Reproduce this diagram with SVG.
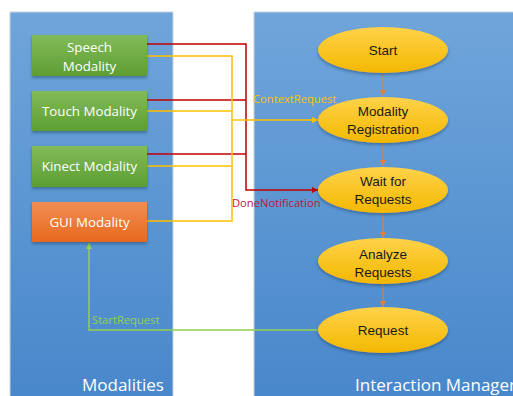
<svg xmlns="http://www.w3.org/2000/svg" width="513" height="396" viewBox="0 0 513 396">
<style>
.panel{fill:url(#pg);stroke:#c9d3de;stroke-width:1}
.box{stroke:none;filter:url(#sh)}
.bt{font-family:"Open Sans","Liberation Sans",sans-serif;font-size:13.3px;fill:#ffffff;text-anchor:middle}
.et{font-family:"Liberation Sans",Arial,sans-serif;font-size:13.5px;fill:#1a1a1a;text-anchor:middle}
.ell{fill:url(#yg);filter:url(#sh)}
.lbl{font-family:"Open Sans","Liberation Sans",sans-serif;font-size:11.2px}
.title{font-family:"Open Sans","Liberation Sans",sans-serif;font-size:17px;fill:#ffffff}
.red{fill:none;stroke:#c00000;stroke-width:1.5}
.yel{fill:none;stroke:#ffc000;stroke-width:1.5}
.grn{fill:none;stroke:#92d050;stroke-width:1.5}
.org{fill:none;stroke:#ed7d31;stroke-width:1}
</style>
<defs>
<linearGradient id="pg" x1="0" y1="0" x2="0" y2="1"><stop offset="0" stop-color="#6fa5da"/><stop offset="1" stop-color="#4887cb"/></linearGradient>
<linearGradient id="gg" x1="0" y1="0" x2="0" y2="1"><stop offset="0" stop-color="#82bb5a"/><stop offset="1" stop-color="#5d9e32"/></linearGradient>
<linearGradient id="og" x1="0" y1="0" x2="0" y2="1"><stop offset="0" stop-color="#f28d55"/><stop offset="1" stop-color="#e7691c"/></linearGradient>
<linearGradient id="yg" x1="0" y1="0" x2="0" y2="1"><stop offset="0" stop-color="#ffd24a"/><stop offset="1" stop-color="#f3b800"/></linearGradient>
<filter id="sh" x="-20%" y="-20%" width="140%" height="150%"><feDropShadow dx="0" dy="2" stdDeviation="1.5" flood-color="#1f3a5a" flood-opacity="0.45"/></filter>
<marker id="ar" viewBox="0 0 10 10" refX="10" refY="5" markerWidth="6" markerHeight="6" markerUnits="userSpaceOnUse" orient="auto"><path d="M0,0L10,5L0,10z" fill="#c00000"/></marker>
<marker id="ay" viewBox="0 0 10 10" refX="10" refY="5" markerWidth="6" markerHeight="6" markerUnits="userSpaceOnUse" orient="auto"><path d="M0,0L10,5L0,10z" fill="#ffc000"/></marker>
<marker id="ag" viewBox="0 0 10 10" refX="10" refY="5" markerWidth="6" markerHeight="6" markerUnits="userSpaceOnUse" orient="auto"><path d="M0,0L10,5L0,10z" fill="#92d050"/></marker>
<marker id="ao" viewBox="0 0 10 10" refX="10" refY="5" markerWidth="6" markerHeight="6" markerUnits="userSpaceOnUse" orient="auto"><path d="M0,0L10,5L0,10z" fill="#ed7d31"/></marker>
</defs>
<rect width="513" height="396" fill="#ffffff"/>
<g id="panel-modalities">
<rect class="panel" x="10" y="12" width="163" height="390"/>
<text class="title" x="82" y="391">Modalities</text>
</g>
<g id="panel-im">
<rect class="panel" x="254" y="12" width="270" height="390"/>
<text class="title" x="355" y="391">Interaction Manager</text>
</g>
<g id="connectors">
<path class="org" d="M383,73V96" marker-end="url(#ao)"/>
<path class="org" d="M383,143V166" marker-end="url(#ao)"/>
<path class="org" d="M383,213V238" marker-end="url(#ao)"/>
<path class="org" d="M383,284V307" marker-end="url(#ao)"/>
<path class="red" d="M147,44H246V190H318" marker-end="url(#ar)"/>
<path class="red" d="M147,100H246"/>
<path class="red" d="M147,154H246"/>
<path class="yel" d="M147,56H232V221H147"/>
<path class="yel" d="M147,111H232"/>
<path class="yel" d="M147,166H232"/>
<path class="yel" d="M232,120H318" marker-end="url(#ay)"/>
<path class="grn" d="M318,330H89V243" marker-end="url(#ag)"/>
<text class="lbl" x="253" y="103" fill="#ffc000">ContextRequest</text>
<text class="lbl" x="232" y="207" fill="#c0143c">DoneNotification</text>
<text class="lbl" x="92" y="324" fill="#92d050">StartRequest</text>
</g>
<g id="speech"><rect class="box" x="32" y="35" width="115" height="41" fill="url(#gg)"/><text class="bt" x="89.5" y="52">Speech</text><text class="bt" x="89.5" y="71">Modality</text></g>
<g id="touch"><rect class="box" x="32" y="91" width="115" height="40" fill="url(#gg)"/><text class="bt" x="89.5" y="116">Touch Modality</text></g>
<g id="kinect"><rect class="box" x="32" y="146" width="115" height="41" fill="url(#gg)"/><text class="bt" x="89.5" y="171">Kinect Modality</text></g>
<g id="gui"><rect class="box" x="32" y="202" width="115" height="40" fill="url(#og)"/><text class="bt" x="89.5" y="227">GUI Modality</text></g>
<g id="start"><ellipse class="ell" cx="383" cy="50" rx="65" ry="23"/><text class="et" x="383" y="55">Start</text></g>
<g id="registration"><ellipse class="ell" cx="383" cy="120" rx="65" ry="23"/><text class="et" x="383" y="116">Modality</text><text class="et" x="383" y="134">Registration</text></g>
<g id="wait"><ellipse class="ell" cx="383" cy="190" rx="65" ry="23"/><text class="et" x="383" y="186">Wait for</text><text class="et" x="383" y="204">Requests</text></g>
<g id="analyze"><ellipse class="ell" cx="383" cy="261" rx="65" ry="23"/><text class="et" x="383" y="259">Analyze</text><text class="et" x="383" y="277">Requests</text></g>
<g id="request"><ellipse class="ell" cx="383" cy="330" rx="65" ry="23"/><text class="et" x="383" y="335">Request</text></g>
</svg>
